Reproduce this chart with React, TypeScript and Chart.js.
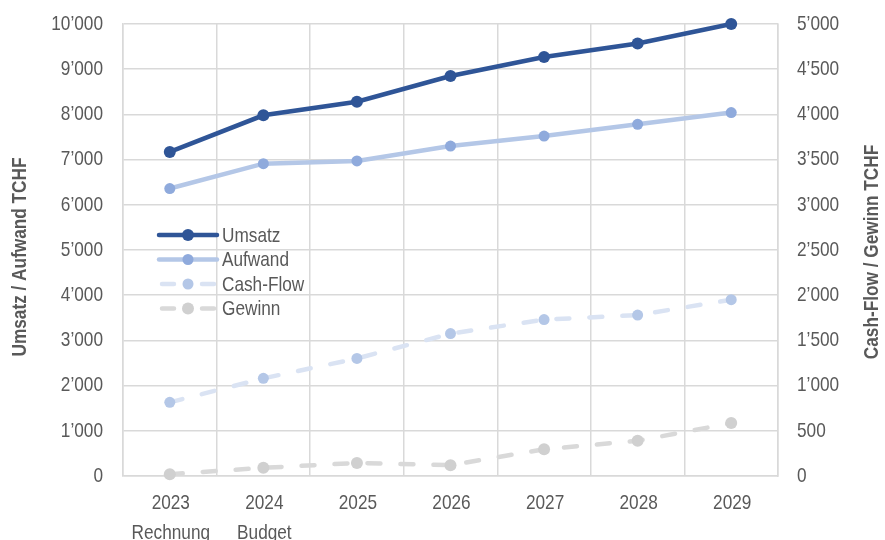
import React, { useEffect, useRef } from "react";
import { Chart, registerables } from "chart.js";

Chart.register(...registerables);

// Jahre und Zusatzbezeichnung (zweite Zeile der Achsenbeschriftung)
const years = ["2023", "2024", "2025", "2026", "2027", "2028", "2029"];
const yearNotes = ["Rechnung", "Budget", "", "", "", "", ""];

// Linke Achse (TCHF)
const umsatz = [7170, 7980, 8280, 8850, 9270, 9570, 10000];
const aufwand = [6360, 6910, 6970, 7300, 7520, 7780, 8040];

// Rechte Achse (TCHF)
const cashFlow = [815, 1080, 1300, 1575, 1730, 1780, 1950];
const gewinn = [20, 90, 145, 120, 295, 390, 585];

const leftTitle = "Umsatz / Aufwand TCHF";
const rightTitle = "Cash-Flow / Gewinn TCHF";

const FONT = "'Liberation Sans', Arial, sans-serif";
const TEXT = "#595959";
const GRID = "#D9D9D9";
const NARROW = 0.82; // horizontale Stauchung für eine schmale Schrift

const fmt = (v: number) =>
  String(Math.round(v)).replace(/\B(?=(\d{3})+(?!\d))/g, "\u2019");

function narrowText(
  ctx: CanvasRenderingContext2D,
  text: string,
  x: number,
  y: number,
  align: CanvasTextAlign,
  rotate = 0
) {
  ctx.save();
  ctx.translate(x, y);
  if (rotate) ctx.rotate(rotate);
  ctx.scale(NARROW, 1);
  ctx.textAlign = align;
  ctx.textBaseline = "middle";
  ctx.fillText(text, 0, 0);
  ctx.restore();
}

// Achsenbeschriftungen und -titel in schmaler Schrift
const axisTextPlugin = {
  id: "axisText",
  afterDraw(chart: any) {
    const { ctx, chartArea, scales } = chart;
    ctx.save();
    ctx.fillStyle = TEXT;
    ctx.font = `21px ${FONT}`;

    const y = scales.y;
    y.ticks.forEach((t: any, i: number) => {
      narrowText(ctx, fmt(t.value), chartArea.left - 20, y.getPixelForTick(i), "right");
    });
    const y1 = scales.y1;
    y1.ticks.forEach((t: any, i: number) => {
      narrowText(ctx, fmt(t.value), chartArea.right + 19, y1.getPixelForTick(i), "left");
    });
    const x = scales.x;
    x.ticks.forEach((t: any, i: number) => {
      const px = x.getPixelForTick(i);
      const lines = Array.isArray(t.label) ? t.label : [t.label];
      lines.forEach((line: string, k: number) => {
        narrowText(ctx, line, px + 1, chartArea.bottom + 27 + k * 30, "center");
      });
    });

    ctx.font = `bold 21px ${FONT}`;
    const cy = (chartArea.top + chartArea.bottom) / 2;
    narrowText(ctx, leftTitle, 20, cy + 7, "center", -Math.PI / 2);
    narrowText(ctx, rightTitle, chart.width - 13, cy + 2, "center", -Math.PI / 2);
    ctx.restore();
  },
};

// Legende innerhalb der Zeichenfläche: Linienmuster mit Marker
const legendPlugin = {
  id: "inlineLegend",
  afterDatasetsDraw(chart: any) {
    const { ctx, chartArea } = chart;
    const x0 = chartArea.left + 36;
    const x1 = x0 + 58;
    let y = chartArea.top + 211;
    ctx.save();
    ctx.font = `21px ${FONT}`;
    chart.data.datasets.forEach((ds: any) => {
      ctx.save();
      ctx.strokeStyle = ds.borderColor;
      ctx.lineWidth = ds.borderWidth;
      ctx.lineCap = ds.borderCapStyle || "butt";
      ctx.beginPath();
      if (ds.borderDash && ds.borderDash.length) {
        ctx.moveTo(x0 + 3, y);
        ctx.lineTo(x0 + 15, y);
        ctx.moveTo(x1 - 15, y);
        ctx.lineTo(x1 - 3, y);
      } else {
        ctx.moveTo(x0, y);
        ctx.lineTo(x1, y);
      }
      ctx.stroke();
      ctx.fillStyle = ds.pointBackgroundColor;
      ctx.beginPath();
      ctx.arc((x0 + x1) / 2, y, ds.pointRadius, 0, Math.PI * 2);
      ctx.fill();
      ctx.restore();
      ctx.fillStyle = TEXT;
      narrowText(ctx, ds.label, x1 + 5, y + 1, "left");
      y += 24.5;
    });
    ctx.restore();
  },
};

export default function App() {
  const ref = useRef<HTMLCanvasElement>(null);

  useEffect(() => {
    if (!ref.current) return;
    const labels = years.map((y, i) => (yearNotes[i] ? [y, yearNotes[i]] : y));
    const chart = new Chart(ref.current, {
      type: "line",
      data: {
        labels,
        datasets: [
          {
            label: "Umsatz",
            data: umsatz,
            yAxisID: "y",
            borderColor: "#2F5597",
            backgroundColor: "#2F5597",
            pointBackgroundColor: "#2F5597",
            pointBorderWidth: 0,
            pointRadius: 6,
            borderWidth: 4.5,
            borderCapStyle: "round",
            clip: false,
          },
          {
            label: "Aufwand",
            data: aufwand,
            yAxisID: "y",
            borderColor: "#B4C7E7",
            backgroundColor: "#8FAADC",
            pointBackgroundColor: "#8FAADC",
            pointBorderWidth: 0,
            pointRadius: 5.5,
            borderWidth: 4.5,
            borderCapStyle: "round",
            clip: false,
          },
          {
            label: "Cash-Flow",
            data: cashFlow,
            yAxisID: "y1",
            borderColor: "#DAE3F3",
            backgroundColor: "#B4C7E7",
            pointBackgroundColor: "#B4C7E7",
            pointBorderWidth: 0,
            pointRadius: 5.5,
            borderWidth: 4.5,
            borderDash: [13, 20],
            borderCapStyle: "round",
            clip: false,
          },
          {
            label: "Gewinn",
            data: gewinn,
            yAxisID: "y1",
            borderColor: "#D9D9D9",
            backgroundColor: "#D0D0D0",
            pointBackgroundColor: "#D0D0D0",
            pointBorderWidth: 0,
            pointRadius: 6,
            borderWidth: 4.5,
            borderDash: [13, 20],
            borderCapStyle: "round",
            clip: false,
          },
        ],
      },
      options: {
        animation: false,
        responsive: false,
        maintainAspectRatio: false,
        layout: { padding: { top: 24, left: 0, right: 0, bottom: 0 } },
        plugins: {
          legend: { display: false },
          tooltip: { enabled: false },
        },
        elements: { line: { tension: 0 } },
        scales: {
          x: {
            offset: true,
            grid: { color: GRID, lineWidth: 1.5, offset: true, drawTicks: false },
            border: { color: GRID, width: 1.5 },
            ticks: { display: false, autoSkip: false },
            afterFit(scale: any) {
              scale.height = 64;
            },
          },
          y: {
            position: "left",
            min: 0,
            max: 10000,
            grid: { color: GRID, lineWidth: 1.5, drawTicks: false },
            border: { color: GRID, width: 1.5 },
            ticks: { display: false, stepSize: 1000 },
            afterFit(scale: any) {
              scale.width = 123;
            },
          },
          y1: {
            position: "right",
            min: 0,
            max: 5000,
            grid: { drawOnChartArea: false, drawTicks: false },
            border: { color: GRID, width: 1.5 },
            ticks: { display: false, stepSize: 500 },
            afterFit(scale: any) {
              scale.width = 107;
            },
          },
        },
      },
      plugins: [axisTextPlugin, legendPlugin],
    } as any);
    return () => chart.destroy();
  }, []);

  return (
    <div style={{ position: "absolute", left: 0, top: 0, width: 885, height: 540, background: "#fff" }}>
      <canvas ref={ref} width={885} height={540} style={{ width: 885, height: 540 }} />
    </div>
  );
}
